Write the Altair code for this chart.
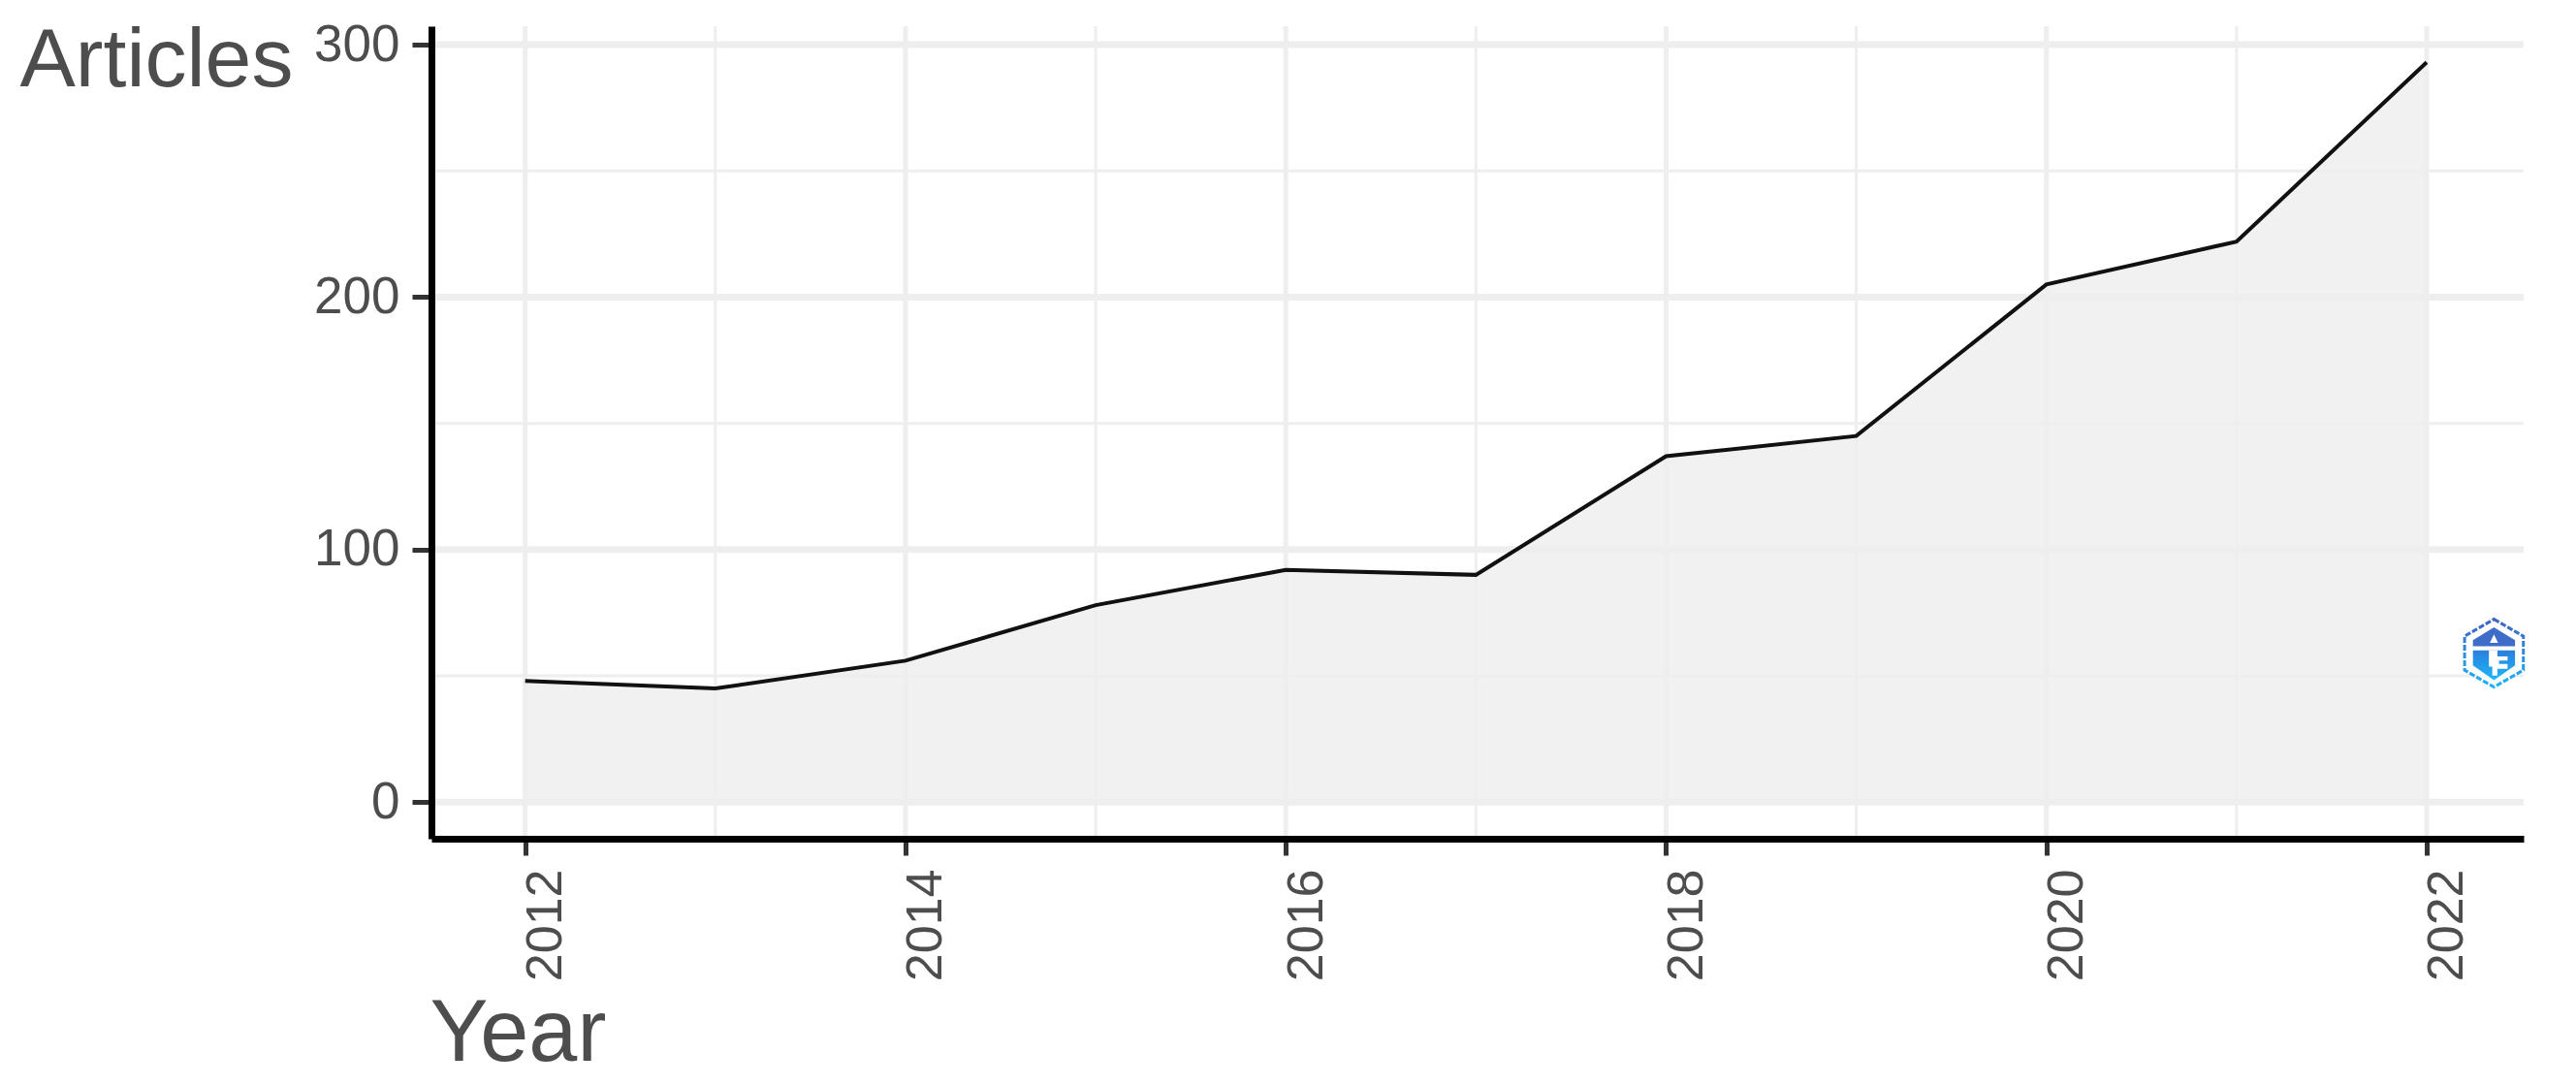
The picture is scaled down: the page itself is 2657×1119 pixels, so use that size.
import altair as alt
import pandas as pd

years = [2012, 2013, 2014, 2015, 2016, 2017, 2018, 2019, 2020, 2021, 2022]
articles = [48, 45, 56, 78, 92, 90, 137, 145, 205, 222, 293]
major_x = [2012, 2014, 2016, 2018, 2020, 2022]
minor_x = [2013, 2015, 2017, 2019, 2021]
major_y = [0, 100, 200, 300]
minor_y = [50, 150, 250]
logo_x = [2022.354]
logo_y = [59]

TEXT = "#4d4d4d"
FONT = "Liberation Sans"
HEX = "M0,-1 L0.866,-0.5 L0.866,0.5 L0,1 L-0.866,0.5 L-0.866,-0.5 Z"
ROOF = "M0,-0.76 L0.62,-0.38 L0.62,-0.2 L-0.62,-0.2 L-0.62,-0.38 Z"
SHIELD = "M-0.62,-0.08 L0.62,-0.08 L0.62,0.36 L0,0.8 L-0.62,0.36 Z"
DETAIL = ("M0,-0.55 L0.12,-0.3 L-0.12,-0.3 Z "
          "M-0.15,-0.08 L0.1,-0.08 L0.1,0.1 L0.4,0.1 L0.4,0.22 L0.15,0.22 L0.15,0.32 L0.4,0.32 "
          "L0.4,0.46 L0.1,0.46 L0.1,0.66 L-0.05,0.66 L-0.05,0.4 L-0.15,0.4 Z")
GRID = "#eeeeee"

xs = alt.Scale(domain=[2011.507, 2022.51], nice=False, zero=False)
ys = alt.Scale(domain=[-14.5, 307.3], nice=False, zero=False)

df = pd.DataFrame({"Year": years, "Articles": articles})
x_axis = alt.Axis(
    title="Year", values=major_x, format="d", grid=False, zindex=1,
    labelAngle=270, labelAlign="right", labelBaseline="top",
    labelFont=FONT, labelFontSize=52, labelColor=TEXT, labelPadding=14, labelOffset=-4,
    labelOverlap=False, labelFlush=False, labelBound=False,
    tickSize=17, tickWidth=5, tickColor="#333333",
    domainColor="#000000", domainWidth=7,
    titleFont=FONT, titleFontSize=90, titleColor=TEXT, titleFontWeight="normal",
    titleAlign="left", titleBaseline="alphabetic", titleX=-2, titleY=228,
)
y_axis = alt.Axis(
    title="Articles", values=major_y, format="d", grid=False, zindex=1,
    labelFont=FONT, labelFontSize=53, labelColor=TEXT, labelPadding=13,
    labelOverlap=False, labelFlush=False, labelBound=False,
    tickSize=20, tickWidth=5, tickColor="#333333",
    domainColor="#000000", domainWidth=7,
    titleFont=FONT, titleFontSize=86, titleColor=TEXT, titleFontWeight="normal",
    titleAngle=0, titleAlign="left", titleBaseline="alphabetic",
    titleX=-425, titleY=61,
)


def X(f):
    return alt.X(f, scale=xs, axis=x_axis)


def Y(f):
    return alt.Y(f, scale=ys, axis=y_axis)


def vrules(vals, w):
    return alt.Chart(pd.DataFrame({"v": vals})).mark_rule(color=GRID, strokeWidth=w).encode(x=X("v:Q"))


def hrules(vals, w):
    return alt.Chart(pd.DataFrame({"v": vals})).mark_rule(color=GRID, strokeWidth=w).encode(y=Y("v:Q"))


base = alt.Chart(df)
area = base.mark_area(color="#f1f1f1").encode(x=X("Year:Q"), y=Y("Articles:Q"), y2=alt.datum(0))
line = base.mark_line(color="#111111", strokeWidth=4).encode(x=X("Year:Q"), y=Y("Articles:Q"))

logo_df = pd.DataFrame({"x": logo_x, "y": logo_y})
outer_grad = alt.Gradient(
    gradient="linear", x1=0, y1=0, x2=0, y2=1,
    stops=[alt.GradientStop(color="#3f63c4", offset=0), alt.GradientStop(color="#1cb4f8", offset=1)],
)
shield_grad = alt.Gradient(
    gradient="linear", x1=0, y1=0, x2=0, y2=1,
    stops=[alt.GradientStop(color="#2a7fdc", offset=0), alt.GradientStop(color="#1cb8fa", offset=1)],
)


def logo_part(**style):
    return alt.Chart(logo_df).mark_point(size=4900, fillOpacity=1, **style).encode(x=X("x:Q"), y=Y("y:Q"))


logo = [
    logo_part(shape=HEX, fill="#ffffff", stroke=outer_grad, strokeWidth=3, strokeDash=[6, 2]),
    logo_part(shape=ROOF, fill="#3f6cc9", strokeWidth=0),
    logo_part(shape=SHIELD, fill=shield_grad, strokeWidth=0),
    logo_part(shape=DETAIL, fill="#ffffff", strokeWidth=0),
]

chart = alt.layer(
    area,
    vrules(major_x, 5), vrules(minor_x, 3),
    hrules(major_y, 7), hrules(minor_y, 3),
    line, *logo,
).resolve_scale(x="shared", y="shared").properties(
    width=2158, height=838,
    padding={"left": 12, "top": 11, "right": 0, "bottom": 0},
    background="#ffffff",
).configure_view(stroke=None)

chart.save("out.html", embed_options={"renderer": "svg", "actions": False})
